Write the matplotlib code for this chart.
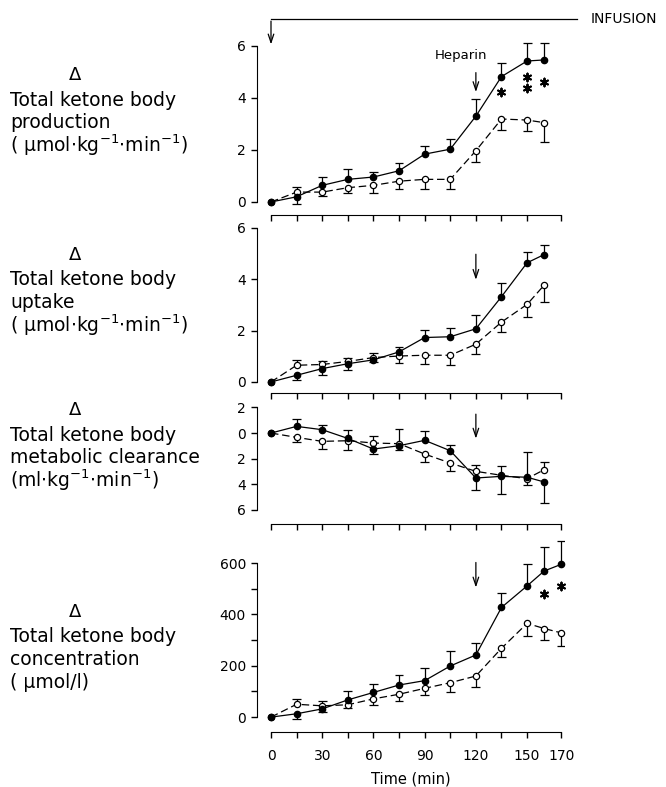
import numpy as np
import matplotlib
matplotlib.use('Agg')
import matplotlib.pyplot as plt
from matplotlib.ticker import FuncFormatter, FixedLocator

t = [0, 15, 30, 45, 60, 75, 90, 105, 120, 135, 150, 160]
t4 = t + [170]

# production
prod_f = [0, 0.2, 0.64, 0.87, 0.96, 1.2, 1.84, 2.03, 3.3, 4.82, 5.42, 5.46]
prod_f_end = [np.nan, -0.09, 0.96, 1.25, 1.16, 1.5, 2.15, 2.44, 3.96, 5.36, 6.13, 6.1]
prod_o = [0, 0.38, 0.38, 0.55, 0.64, 0.8, 0.87, 0.87, 1.97, 3.19, 3.15, 3.05]
prod_o_end = [np.nan, 0.58, 0.22, 0.36, 0.36, 0.51, 0.51, 0.49, 1.52, 2.76, 2.73, 2.31]
prod_star_t = [135, 150, 150, 160]
prod_star_y = [4.24, 4.82, 4.37, 4.63]

# uptake
upt_f = [0, 0.26, 0.52, 0.71, 0.86, 1.17, 1.73, 1.76, 2.07, 3.32, 4.64, 4.96]
upt_f_end = [np.nan, 0.07, 0.26, 0.45, 1.14, 1.38, 2.02, 2.09, 2.62, 3.84, 5.07, 5.33]
upt_o = [0, 0.65, 0.68, 0.8, 0.95, 1.01, 1.04, 1.04, 1.47, 2.33, 3.02, 3.77]
upt_o_end = [np.nan, 0.86, 0.82, 0.95, 0.78, 0.75, 0.71, 0.66, 1.1, 1.95, 2.53, 3.12]

# metabolic clearance (plotted downward)
clr_f = [0, 0.52, 0.26, -0.42, -1.25, -0.99, -0.57, -1.38, -3.51, -3.38, -3.45, -3.82]
clr_f_end = [np.nan, 1.09, 0.65, 0.26, -1.64, -1.35, 0.18, -0.91, -4.47, -4.73, -1.5, -5.45]
clr_o = [0, -0.34, -0.65, -0.6, -0.78, -0.83, -1.64, -2.34, -2.99, -3.3, -3.56, -2.86]
clr_o_end = [np.nan, -0.73, -1.25, -1.3, -0.21, 0.31, -2.29, -2.94, -2.47, -2.6, -4.03, -2.29]

# concentration
con_f = [0, 13, 32, 67, 96, 125, 142, 199, 242, 427, 511, 569, 595]
con_f_end = [np.nan, -6, 19, 100, 129, 164, 193, 257, 287, 485, 595, 662, 685]
con_o = [0, 50, 44, 48, 71, 89, 112, 134, 160, 268, 365, 345, 328]
con_o_end = [np.nan, 70, 63, 37, 48, 61, 87, 96, 119, 233, 317, 300, 277]
con_star_t = [160, 170]
con_star_y = [481, 511]

xticks = [0, 15, 30, 45, 60, 75, 90, 105, 120, 135, 150, 170]
xticklabels = ['0', '', '30', '', '60', '', '90', '', '120', '', '150', '170']

W, H = 666, 787
fig = plt.figure(figsize=(W / 100, H / 100), dpi=100)
plt.rcParams['font.family'] = 'DejaVu Sans'

def make_ax(top, bot, ylim):
    ax = fig.add_axes([257 / W, 1 - bot / H, (565 - 257) / W, (bot - top) / H])
    ax.set_facecolor('none')
    ax.set_xlim(-8.2, 172.2)
    ax.set_ylim(*ylim)
    ax.spines['top'].set_visible(False)
    ax.spines['right'].set_visible(False)
    ax.spines['bottom'].set_bounds(0, 170)
    ax.set_xticks(xticks)
    ax.set_xticklabels([])
    ax.tick_params(axis='x', direction='out', length=4, width=1)
    ax.tick_params(axis='y', direction='out', length=4, width=1, labelsize=10, pad=4)
    return ax

def draw(ax, x, f, fe, o, oe, cw):
    x = np.array(x, float)
    for xs, ys, es in [(x, f, fe), (x, o, oe)]:
        ys = np.array(ys, float)
        es = np.array(es, float)
        m = ~np.isnan(es)
        ax.vlines(xs[m], ys[m], es[m], color='black', lw=0.9, zorder=2)
        ax.hlines(es[m], xs[m] - cw, xs[m] + cw, color='black', lw=0.9, zorder=2)
    ax.plot(x, o, color='black', lw=0.9, ls=(0, (6, 3)), marker='o', ms=4.5,
            mfc='white', mec='black', mew=0.9, zorder=3)
    ax.plot(x, f, color='black', lw=0.9, ls='-', marker='o', ms=4.5,
            mfc='black', mec='black', zorder=4)

def arrow(ax, tail, tip):
    ax.annotate('', xy=(120, tip), xytext=(120, tail),
                arrowprops=dict(arrowstyle='->,head_length=0.6,head_width=0.2', lw=0.9, color='black'))

# panel 1
ax1 = make_ax(10, 215, (-0.5, 7.38))
ax1.spines['left'].set_bounds(0, 6)
ax1.set_yticks([0, 2, 4, 6])
draw(ax1, t, prod_f, prod_f_end, prod_o, prod_o_end, 2.6)
ax1.scatter(prod_star_t, prod_star_y, marker=(6, 2, 0), s=32, color='black', lw=1.4)
arrow(ax1, 5.08, 4.12)
ax1.text(111, 5.62, 'Heparin', fontsize=9.5, ha='center', va='center')
ax1.plot([0, 179], [7.04, 7.04], color='black', lw=0.9, clip_on=False)
ax1.annotate('', xy=(0, 5.95), xytext=(0, 7.06),
             arrowprops=dict(arrowstyle='->,head_length=0.6,head_width=0.2', lw=0.9, color='black'))
ax1.text(187, 7.04, 'INFUSION', fontsize=10, ha='left', va='center', clip_on=False)

# panel 2
ax2 = make_ax(215, 393, (-0.43, 6.5))
ax2.spines['left'].set_bounds(0, 6)
ax2.set_yticks([0, 2, 4, 6])
draw(ax2, t, upt_f, upt_f_end, upt_o, upt_o_end, 2.6)
arrow(ax2, 5.08, 3.87)

# panel 3
ax3 = make_ax(393, 524, (-7.1, 3.125))
ax3.spines['left'].set_bounds(-6, 2)
ax3.set_yticks([2, 0, -2, -4, -6])
ax3.yaxis.set_major_formatter(FuncFormatter(lambda v, p: '%d' % abs(v)))
draw(ax3, t, clr_f, clr_f_end, clr_o, clr_o_end, 2.6)
arrow(ax3, 1.69, -0.65)

# panel 4
ax4 = make_ax(524, 732, (-58, 752))
ax4.spines['left'].set_bounds(0, 600)
ax4.set_yticks([0, 200, 400, 600])
ax4.yaxis.set_minor_locator(FixedLocator([100, 300, 500]))
ax4.tick_params(axis='y', which='minor', direction='out', length=4, width=1)
ax4.set_xticklabels(xticklabels, fontsize=10)
ax4.tick_params(axis='x', pad=8)
draw(ax4, t4, con_f, con_f_end, con_o, con_o_end, 2.6)
ax4.scatter(con_star_t, con_star_y, marker=(6, 2, 0), s=32, color='black', lw=1.4)
arrow(ax4, 613, 494)
ax4.set_xlabel('Time (min)', fontsize=10.5, labelpad=6)

# left labels
labels = [
    (75, ['Total ketone body', 'production', '( µmol$\\cdot$kg$^{-1}$$\\cdot$min$^{-1}$)']),
    (255, ['Total ketone body', 'uptake', '( µmol$\\cdot$kg$^{-1}$$\\cdot$min$^{-1}$)']),
    (410, ['Total ketone body', 'metabolic clearance', '(ml$\\cdot$kg$^{-1}$$\\cdot$min$^{-1}$)']),
    (612, ['Total ketone body', 'concentration', '( µmol/l)']),
]
for y0, lines in labels:
    fig.text(75 / W, 1 - y0 / H, 'Δ', fontsize=13, ha='center', va='center')
    for i, s in enumerate(lines):
        fig.text(10 / W, 1 - (y0 + 25 + 22.5 * i) / H, s, fontsize=13.5, ha='left', va='center')

fig.savefig('out.png', dpi=100)
